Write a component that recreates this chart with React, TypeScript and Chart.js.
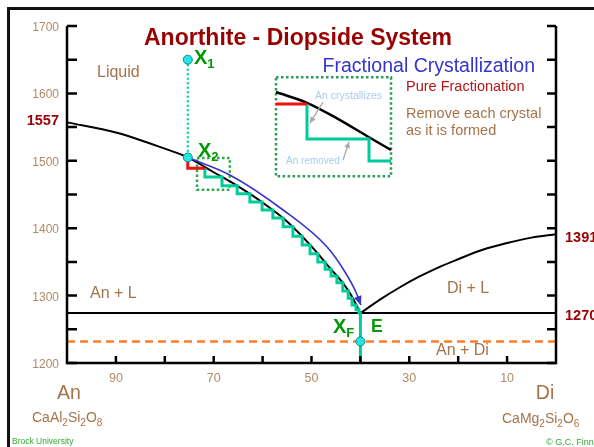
import React, { useEffect, useRef } from "react";
import { Chart, registerables } from "chart.js";

Chart.register(...registerables);

type P = [number, number];

// ---- axis ticks / labels ----
const AN_TICKS = [90, 80, 70, 60, 50, 40, 30, 20, 10];
const AN_LABELS = [90, 70, 50, 30, 10];
const T_TICKS = [1200, 1250, 1300, 1350, 1400, 1450, 1500, 1550, 1600, 1650, 1700];
const T_LABELS = [1200, 1300, 1400, 1500, 1600, 1700];

// ---- phase diagram data (wt% An, T °C) ----
const LIQUIDUS_AN: P[] = [
  [100, 1557], [90, 1542], [80, 1518], [75.3, 1505], [70, 1483], [65, 1462],
  [60, 1438], [55, 1410], [50, 1373], [46, 1339], [43.6, 1319], [42, 1302], [40, 1274],
];
const LIQUIDUS_DI: P[] = [
  [40, 1274], [36, 1294], [32, 1312], [28, 1328], [24, 1342], [20, 1354],
  [15, 1368], [10, 1378], [5, 1386], [0, 1391],
];
const EUTECTIC_LINE: P[] = [[100, 1274], [0, 1274]];
const SOLIDUS_LINE: P[] = [[100, 1232], [0, 1232]];
const X1: P = [75.3, 1650];
const X2: P = [75.3, 1505];
const XF_BOTTOM: P = [40, 1232];
const X1_TO_X2: P[] = [X1, X2];
const RED_STEP: P[] = [[75.3, 1505], [71.8, 1489]];
const GREEN_STEPS: P[] = [
  [71.8, 1489], [68.3, 1476], [65.2, 1463], [62.6, 1451], [60.1, 1439], [57.9, 1427],
  [55.8, 1415], [53.8, 1402], [51.9, 1388], [50.3, 1375], [48.7, 1362], [47.2, 1350],
  [46.0, 1339], [44.8, 1329], [43.6, 1319], [42.5, 1307], [41.7, 1296], [40.9, 1286],
  [40.3, 1279], [40, 1274], [40, 1200],
];
const FRACTION_PATH: P[] = [
  [75.3, 1505], [66.7, 1479], [55.8, 1427], [46.8, 1372], [43.15, 1335], [40.9, 1305], [39.9, 1286],
];
const ZOOM_BOX: P[] = [[73.4, 1504], [66.7, 1504], [66.7, 1457], [73.4, 1457], [73.4, 1504]];
const INSET_BOX: P[] = [[57.26, 1624], [33.74, 1624], [33.74, 1477], [57.26, 1477], [57.26, 1624]];
const INSET_CURVE: P[] = [[57.26, 1602], [50.92, 1586], [44.79, 1563], [38.24, 1535], [33.74, 1516]];
const INSET_RED: P[] = [[57.26, 1584.3], [50.92, 1584.3]];
const INSET_GREEN: P[] = [[50.92, 1584.3], [38.24, 1532.3], [33.74, 1499.7]];
const INSET_ARROWS: [P, P][] = [
  [[47.65, 1587], [50.31, 1556]],
  [[43.56, 1501], [42.33, 1528]],
];
const LABEL_1557 = 1557;
const LABEL_1391 = 1391;
const LABEL_EUTECTIC = "1270";

const FONT = "'Liberation Sans', Arial, Helvetica, sans-serif";
const BROWN = "#a5734a";
const TICK_BROWN = "#b08a66";
const DARK_RED = "#990000";
const GREEN_TXT = "#009a00";
const TEAL = "#00cc99";
const BLUE = "#3535cc";

const pts = (a: P[]) => a.map(([x, y]) => ({ x, y }));
function ds(data: P[], extra: any) {
  return { data: pts(data), showLine: true, pointRadius: 0, clip: false, fill: false, tension: 0, ...extra };
}

function txt(ctx: CanvasRenderingContext2D, s: string, x: number, y: number, size: number, color: string, bold = false, align: CanvasTextAlign = "left") {
  ctx.font = `${bold ? "bold " : ""}${size}px ${FONT}`;
  ctx.fillStyle = color;
  ctx.textAlign = align;
  ctx.textBaseline = "alphabetic";
  ctx.fillText(s, x, y);
}

function rich(ctx: CanvasRenderingContext2D, parts: [string, boolean][], x: number, y: number, size: number, sub: number, color: string, bold = false, align: "left" | "center" = "left", subDrop = 3.5) {
  const f = (s: boolean) => `${bold ? "bold " : ""}${s ? sub : size}px ${FONT}`;
  let w = 0;
  for (const [t, s] of parts) { ctx.font = f(s); w += ctx.measureText(t).width; }
  let cx = align === "center" ? x - w / 2 : x;
  ctx.fillStyle = color;
  ctx.textAlign = "left";
  ctx.textBaseline = "alphabetic";
  for (const [t, s] of parts) {
    ctx.font = f(s);
    ctx.fillText(t, cx, s ? y + subDrop : y);
    cx += ctx.measureText(t).width;
  }
}

function arrowHead(ctx: CanvasRenderingContext2D, x0: number, y0: number, x1: number, y1: number, len: number, half: number, color: string) {
  const a = Math.atan2(y1 - y0, x1 - x0);
  ctx.fillStyle = color;
  ctx.beginPath();
  ctx.moveTo(x1, y1);
  ctx.lineTo(x1 - len * Math.cos(a) + half * Math.sin(a), y1 - len * Math.sin(a) - half * Math.cos(a));
  ctx.lineTo(x1 - len * Math.cos(a) - half * Math.sin(a), y1 - len * Math.sin(a) + half * Math.cos(a));
  ctx.closePath();
  ctx.fill();
}

const annotPlugin = {
  id: "annot",
  afterDatasetsDraw(chart: any) {
    const ctx: CanvasRenderingContext2D = chart.ctx;
    const px = (v: number) => chart.scales.x.getPixelForValue(v);
    const py = (v: number) => chart.scales.y.getPixelForValue(v);
    ctx.save();
    const L = px(100), R = px(0), B = py(1200), T = py(1700);
    // axes
    ctx.strokeStyle = "#000";
    ctx.lineWidth = 2.5;
    ctx.lineJoin = "miter";
    ctx.beginPath();
    ctx.moveTo(L, T); ctx.lineTo(L, B); ctx.lineTo(R, B); ctx.lineTo(R, T);
    ctx.stroke();
    ctx.beginPath();
    for (const t of T_TICKS) {
      const y = py(t);
      ctx.moveTo(L, y); ctx.lineTo(L + 10, y);
      ctx.moveTo(R, y); ctx.lineTo(R - 9, y);
    }
    for (const a of AN_TICKS) {
      const x = px(a);
      ctx.moveTo(x, B); ctx.lineTo(x, B - 7);
    }
    ctx.stroke();
    for (const t of T_LABELS) txt(ctx, String(t), L - 8, py(t) + 5, 12, TICK_BROWN, false, "right");
    for (const a of AN_LABELS) txt(ctx, String(a), px(a), B + 19, 12.5, TICK_BROWN, false, "center");
    txt(ctx, String(LABEL_1557), L - 8, py(LABEL_1557) + 3, 14.5, DARK_RED, true, "right");
    txt(ctx, String(LABEL_1391), R + 9, py(LABEL_1391) + 8, 14.5, DARK_RED, true, "left");
    txt(ctx, LABEL_EUTECTIC, R + 9, py(1274) + 7, 14.5, DARK_RED, true, "left");

    // blue arrow head
    const n = FRACTION_PATH.length;
    arrowHead(ctx, px(FRACTION_PATH[n - 2][0]), py(FRACTION_PATH[n - 2][1]), px(FRACTION_PATH[n - 1][0]), py(FRACTION_PATH[n - 1][1]), 9, 4, BLUE);

    // inset arrows
    ctx.strokeStyle = "#a8a8a8";
    ctx.lineWidth = 1.3;
    for (const [[a0, t0], [a1, t1]] of INSET_ARROWS) {
      ctx.beginPath();
      ctx.moveTo(px(a0), py(t0)); ctx.lineTo(px(a1), py(t1));
      ctx.stroke();
      arrowHead(ctx, px(a0), py(t0), px(a1), py(t1), 6, 3, "#a8a8a8");
    }

    // titles & texts
    txt(ctx, "Anorthite - Diopside System", 298, 45, 23, DARK_RED, true, "center");
    txt(ctx, "Fractional Crystallization", 535, 72, 19.5, BLUE, false, "right");
    txt(ctx, "Pure Fractionation", 406, 91, 14.5, "#b01818");
    txt(ctx, "Remove each crystal", 406, 118, 14.5, BROWN);
    txt(ctx, "as it is formed", 406, 135, 14.5, BROWN);
    txt(ctx, "An crystallizes", 315, 99, 10.5, "#a8cbf0");
    txt(ctx, "An removed", 286, 164, 10, "#a8cbf0");
    txt(ctx, "Liquid", 97, 77, 16, BROWN);
    txt(ctx, "An + L", 90, 298, 16, BROWN);
    txt(ctx, "Di + L", 447, 293, 16, BROWN);
    txt(ctx, "An + Di", 436, 355, 16, BROWN);
    txt(ctx, "An", 69, 399, 19.5, BROWN, false, "center");
    txt(ctx, "Di", 545, 399, 19.5, BROWN, false, "center");
    rich(ctx, [["CaAl", false], ["2", true], ["Si", false], ["2", true], ["O", false], ["8", true]], 32, 422, 14, 10, BROWN);
    rich(ctx, [["CaMg", false], ["2", true], ["Si", false], ["2", true], ["O", false], ["6", true]], 502, 423, 14, 10, BROWN);
    txt(ctx, "Brock University", 12, 444, 8.5, "#33aa33");
    txt(ctx, "© G.C. Finn", 546, 445, 9, "#33aa33");

    // point labels
    rich(ctx, [["X", false], ["1", true]], 194, 64, 20, 13, GREEN_TXT, true, "left", 4);
    rich(ctx, [["X", false], ["2", true]], 198, 157, 20, 13, GREEN_TXT, true, "left", 4);
    rich(ctx, [["X", false], ["F", true]], 333, 333, 20, 13, GREEN_TXT, true, "left", 4);
    txt(ctx, "E", 371, 332, 17.5, GREEN_TXT, true);
    ctx.restore();
  },
};

export default function App() {
  const ref = useRef<HTMLCanvasElement>(null);
  useEffect(() => {
    if (!ref.current) return;
    const pointStyle = { pointRadius: 4.5, pointBackgroundColor: "#22e5e5", pointBorderColor: "#118888", pointBorderWidth: 1, showLine: false, clip: false };
    const chart = new Chart(ref.current, {
      type: "scatter",
      data: {
        datasets: [
          { data: pts([X1, X2, XF_BOTTOM]), ...pointStyle },
          ds(RED_STEP, { borderColor: "#ee1111", borderWidth: 3, stepped: "after" }),
          ds(FRACTION_PATH, { borderColor: BLUE, borderWidth: 1.6, cubicInterpolationMode: "monotone" }),
          ds(GREEN_STEPS, { borderColor: TEAL, borderWidth: 3, stepped: "after" }),
          ds(LIQUIDUS_AN, { borderColor: "#000", borderWidth: 2, cubicInterpolationMode: "monotone" }),
          ds(LIQUIDUS_DI, { borderColor: "#000", borderWidth: 2, cubicInterpolationMode: "monotone" }),
          ds(EUTECTIC_LINE, { borderColor: "#000", borderWidth: 2 }),
          ds(SOLIDUS_LINE, { borderColor: "#ff7f27", borderWidth: 2.5, borderDash: [8, 5] }),
          ds(X1_TO_X2, { borderColor: TEAL, borderWidth: 2.2, borderDash: [2, 2.5] }),
          ds(ZOOM_BOX, { borderColor: "#2aa84a", borderWidth: 2.5, borderDash: [2.5, 2.5] }),
          ds(INSET_RED, { borderColor: "#ee1111", borderWidth: 3 }),
          ds(INSET_GREEN, { borderColor: TEAL, borderWidth: 3, stepped: "after" }),
          ds(INSET_CURVE, { borderColor: "#000", borderWidth: 2.5, cubicInterpolationMode: "monotone" }),
          ds(INSET_BOX, { borderColor: "#2a9d5a", borderWidth: 2.5, borderDash: [2.5, 2.5] }),
        ],
      },
      options: {
        animation: false,
        responsive: false,
        maintainAspectRatio: false,
        layout: { padding: { left: 67, right: 38, top: 26, bottom: 84 } },
        scales: {
          x: { type: "linear", min: 0, max: 100, reverse: true, display: false },
          y: { type: "linear", min: 1200, max: 1700, display: false },
        },
        plugins: { legend: { display: false }, tooltip: { enabled: false } },
        events: [],
      },
      plugins: [annotPlugin],
    } as any);
    return () => chart.destroy();
  }, []);
  return (
    <div style={{ position: "fixed", left: 0, top: 0, width: 594, height: 447, overflow: "hidden", background: "#fff" }}>
      <div style={{ position: "absolute", left: 7, top: 7, width: 640, height: 500, border: "3px solid #111", boxSizing: "border-box" }} />
      <canvas ref={ref} width={594} height={447} style={{ position: "absolute", left: 0, top: 0, width: 594, height: 447 }} />
    </div>
  );
}
